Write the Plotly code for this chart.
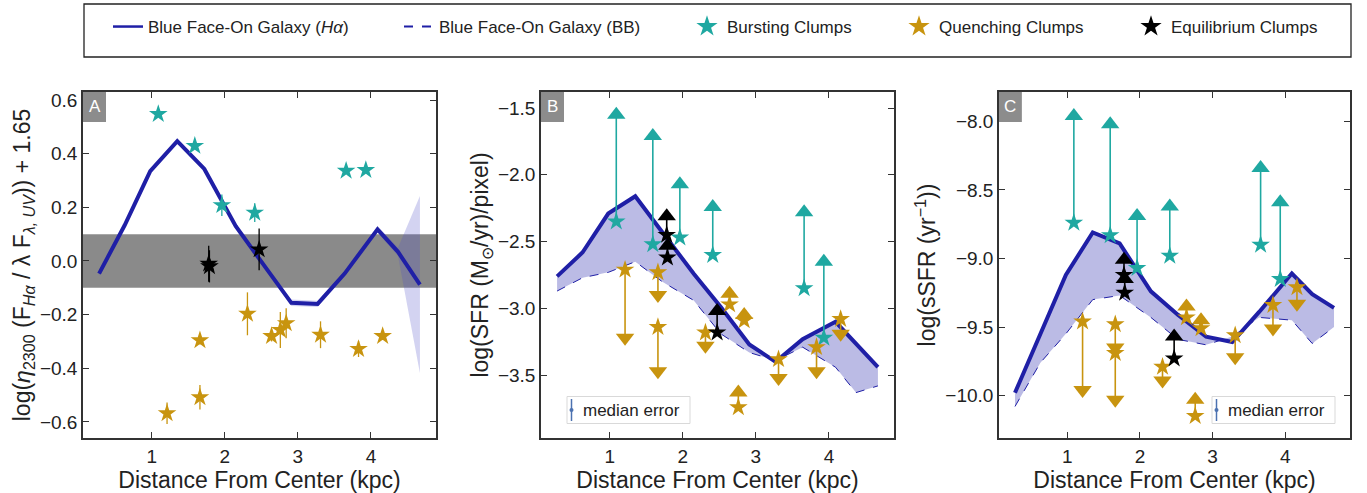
import plotly.graph_objects as go
from plotly.subplots import make_subplots

# ---------------- data ----------------
R = [0.28, 0.63, 0.98, 1.35, 1.72, 2.15, 2.52, 2.91, 3.27, 3.64, 4.09, 4.37, 4.67]

A_ha = [-0.047, 0.133, 0.335, 0.447, 0.343, 0.13, -0.01, -0.156, -0.16, -0.047, 0.118, 0.034, -0.088]
A_err = [0.008, 0.008, 0.008, 0.008, 0.008, 0.008, 0.008, 0.012, 0.012, 0.01, 0.012, 0.015, 0.33]

B_ha = [-2.76, -2.58, -2.29, -2.16, -2.43, -2.74, -2.99, -3.27, -3.40, -3.23, -3.10, -3.26, -3.44]
B_bb = [-2.87, -2.77, -2.73, -2.65, -2.80, -2.94, -3.19, -3.33, -3.39, -3.29, -3.44, -3.63, -3.58]

C_ha = [-9.98, -9.55, -9.12, -8.81, -8.89, -9.24, -9.41, -9.57, -9.61, -9.39, -9.11, -9.26, -9.36]
C_bb = [-10.08, -9.76, -9.55, -9.30, -9.27, -9.43, -9.59, -9.63, -9.57, -9.43, -9.45, -9.62, -9.50]

# Bursting clumps
burst_x = [1.09, 1.59, 1.96, 2.41, 3.66, 3.93]
burst_A = [0.548, 0.429, 0.208, 0.18, 0.336, 0.339]
burst_Aerr = [0.01, 0.01, 0.04, 0.035, 0.01, 0.012]
burst_B = [-2.35, -2.52, -2.47, -2.60, -2.85, -3.22]
burst_B_alt = [-1.55, -1.71, -2.07, -2.24, -2.28, -2.65]
burst_C = [-8.74, -8.83, -9.07, -8.98, -8.90, -9.15]
burst_C_alt = [-7.96, -8.02, -8.69, -8.62, -8.34, -8.59]

# Equilibrium clumps
eq_x = [1.78, 1.79, 2.47]
eq_A = [-0.01, -0.02, 0.043]
eq_Aerr = [0.067, 0.06, 0.078]
eq_B = [-2.45, -2.62, -3.18]
eq_B_alt = [-2.31, -2.53, -3.02]
eq_C = [-9.12, -9.25, -9.73]
eq_C_alt = [-9.01, -9.15, -9.57]

# Quenching clumps
q_x = [1.21, 1.66, 1.66, 2.31, 2.64, 2.76, 2.84, 3.31, 3.83, 4.16]
q_A = [-0.568, -0.296, -0.508, -0.197, -0.28, -0.257, -0.232, -0.275, -0.328, -0.28]
q_Aerr = [0.04, 0.015, 0.046, 0.08, 0.02, 0.067, 0.056, 0.05, 0.03, 0.015]
q_B = [-2.71, -2.73, -3.14, -3.18, -2.97, -3.74, -3.09, -3.38, -3.29, -3.08]
q_B_alt = [-3.22, -2.90, -3.47, -3.28, -2.89, -3.63, -3.05, -3.52, -3.47, -3.19]
q_C = [-9.46, -9.48, -9.69, -9.79, -9.43, -10.15, -9.51, -9.56, -9.34, -9.21]
q_C_alt = [-9.96, -9.65, -10.03, -9.89, -9.35, -10.03, -9.45, -9.72, -9.51, -9.33]

x_ticks = [1, 2, 3, 4]
A_ticks = [-0.6, -0.4, -0.2, 0.0, 0.2, 0.4, 0.6]
B_ticks = [-3.5, -3.0, -2.5, -2.0, -1.5]
C_ticks = [-10.0, -9.5, -9.0, -8.5, -8.0]

# ---------------- styles ----------------
BLUE = "#1f1fa6"
FILL = "rgba(60,60,180,0.35)"
TEAL = "#1fa8a1"
GOLD = "#c8940f"
BLACK = "#000000"
FONT = "Liberation Sans, Arial, sans-serif"
TXT = "#222222"

W, H = 1367, 493
ML, MR, MT, MB = 83, 17, 92, 55
PW, PH = W - ML - MR, H - MT - MB

fig = make_subplots(rows=1, cols=3, horizontal_spacing=0.0)
dom = [[0.0, 353 / PW], [(541 - ML) / PW, (894 - ML) / PW], [(999 - ML) / PW, 1.0]]

# ---- Panel A ----
A_up = [v + e for v, e in zip(A_ha, A_err)]
A_lo = [v - e for v, e in zip(A_ha, A_err)]
fig.add_trace(go.Scatter(x=R, y=A_up, mode="lines", line=dict(width=0, color=BLUE),
                         showlegend=False, hoverinfo="skip"), 1, 1)
fig.add_trace(go.Scatter(x=R, y=A_lo, mode="lines", line=dict(width=0, color=BLUE),
                         fill="tonexty", fillcolor="rgba(80,80,200,0.25)",
                         showlegend=False, hoverinfo="skip"), 1, 1)
fig.add_trace(go.Scatter(x=R, y=A_ha, mode="lines", line=dict(width=4, color=BLUE),
                         showlegend=False), 1, 1)

STAR = 14
TRI = 16


def stars_err(xs, ys, errs, color, col):
    fig.add_trace(go.Scatter(x=xs, y=ys, mode="markers",
                             marker=dict(symbol="star", size=STAR, color=color, line=dict(width=0)),
                             error_y=dict(type="data", array=errs, color=color, thickness=1.3, width=0),
                             showlegend=False), 1, col)


stars_err(burst_x, burst_A, burst_Aerr, TEAL, 1)
stars_err(q_x, q_A, q_Aerr, GOLD, 1)
stars_err(eq_x, eq_A, eq_Aerr, BLACK, 1)


# ---- Panels B, C ----
def band(col, ha, bb):
    fig.add_trace(go.Scatter(x=R, y=ha, mode="lines", line=dict(width=0, color=BLUE),
                             showlegend=False, hoverinfo="skip"), 1, col)
    fig.add_trace(go.Scatter(x=R, y=bb, mode="lines", line=dict(width=1, color=BLUE, dash="dash"),
                             fill="tonexty", fillcolor=FILL, showlegend=False), 1, col)
    fig.add_trace(go.Scatter(x=R, y=ha, mode="lines", line=dict(width=4, color=BLUE),
                             showlegend=False), 1, col)


def arrows(xs, ys, alts, color, col):
    lx, ly = [], []
    for x, s, a in zip(xs, ys, alts):
        lx += [x, x, None]
        ly += [s, a, None]
    fig.add_trace(go.Scatter(x=lx, y=ly, mode="lines", line=dict(width=1.6, color=color),
                             showlegend=False, hoverinfo="skip"), 1, col)
    syms = ["triangle-up" if a > s else "triangle-down" for s, a in zip(ys, alts)]
    fig.add_trace(go.Scatter(x=xs, y=alts, mode="markers",
                             marker=dict(symbol=syms, size=TRI, color=color, line=dict(width=0)),
                             showlegend=False), 1, col)
    fig.add_trace(go.Scatter(x=xs, y=ys, mode="markers",
                             marker=dict(symbol="star", size=STAR, color=color, line=dict(width=0)),
                             showlegend=False), 1, col)


band(2, B_ha, B_bb)
arrows(burst_x, burst_B, burst_B_alt, TEAL, 2)
arrows(q_x, q_B, q_B_alt, GOLD, 2)
arrows(eq_x, eq_B, eq_B_alt, BLACK, 2)

band(3, C_ha, C_bb)
arrows(burst_x, burst_C, burst_C_alt, TEAL, 3)
arrows(q_x, q_C, q_C_alt, GOLD, 3)
arrows(eq_x, eq_C, eq_C_alt, BLACK, 3)

# ---- Legend entries (separate legends for exact placement) ----
leg_items = [
    ("Blue Face-On Galaxy (<i>Hα</i>)", dict(mode="lines", line=dict(width=2.5, color=BLUE)), 149),
    ("Blue Face-On Galaxy (BB)", dict(mode="lines", line=dict(width=2, color=BLUE, dash="dash")), 440),
    ("Bursting Clumps", dict(mode="markers", marker=dict(symbol="star", size=16, color=TEAL)), 728),
    ("Quenching Clumps", dict(mode="markers", marker=dict(symbol="star", size=16, color=GOLD)), 940),
    ("Equilibrium Clumps", dict(mode="markers", marker=dict(symbol="star", size=16, color=BLACK)), 1172),
]
legend_layout = {}
for i, (name, style, tx) in enumerate(leg_items):
    key = "legend" if i == 0 else f"legend{i + 1}"
    fig.add_trace(go.Scatter(x=[None], y=[None], name=name, legend=key, showlegend=True, **style))
    legend_layout[key] = dict(
        x=(tx - 41 - ML) / PW, xanchor="left",
        y=(H - MB - 27) / PH, yanchor="middle",
        orientation="h", bgcolor="rgba(0,0,0,0)", borderwidth=0,
        font=dict(family=FONT, size=17, color=TXT),
    )

# ---------------- layout ----------------
axis_common = dict(showline=True, linecolor="#333333", linewidth=1.5, mirror="ticks",
                   ticks="inside", ticklen=6, tickwidth=1.3, tickcolor="#333333",
                   showgrid=False, zeroline=False, automargin=False,
                   tickfont=dict(family=FONT, size=19, color=TXT))
TITLE_FONT = dict(family=FONT, size=23, color=TXT)

shapes = []
annotations = []
for i in range(3):
    xa = "xaxis" if i == 0 else f"xaxis{i + 1}"
    fig.update_layout({xa: dict(domain=dom[i], range=[0.06, 4.89], tickvals=x_ticks,
                                title=dict(text="Distance From Center (kpc)", font=TITLE_FONT, standoff=1),
                                **axis_common)})
    xr = "x domain" if i == 0 else f"x{i + 1} domain"
    yr = "y domain" if i == 0 else f"y{i + 1} domain"
    shapes.append(dict(type="rect", xref=xr, yref=yr, x0=0, x1=23 / 353, y0=1 - 30 / PH, y1=1,
                       fillcolor="#8c8c8c", line=dict(width=0), layer="above"))
    annotations.append(dict(xref=xr, yref=yr, x=11.5 / 353, y=1 - 15 / PH, text="ABC"[i],
                            showarrow=False, font=dict(family=FONT, size=17, color="white"),
                            xanchor="center", yanchor="middle"))

fig.update_layout(
    yaxis=dict(range=[-0.66, 0.63], tickvals=A_ticks, tickformat=".1f",
               title=dict(text="log(<i>η</i><sub>2300</sub> (F<sub><i>Hα</i></sub> / λ F<sub><i>λ, UV</i></sub>)) + 1.65",
                          font=TITLE_FONT, standoff=3),
               **axis_common),
    yaxis2=dict(range=[-3.97, -1.38], tickvals=B_ticks, tickformat=".1f",
                title=dict(text="log(SFR (M<sub>⊙</sub>/yr)/pixel)", font=TITLE_FONT, standoff=3),
                **axis_common),
    yaxis3=dict(range=[-10.31, -7.785], tickvals=C_ticks, tickformat=".1f",
                title=dict(text="log(sSFR (yr<sup>−1</sup>))", font=TITLE_FONT, standoff=3),
                **axis_common),
)

# grey equilibrium band in panel A
shapes.append(dict(type="rect", xref="x domain", yref="y", x0=0, x1=1, y0=-0.1, y1=0.1,
                   fillcolor="rgba(0,0,0,0.46)", line=dict(width=0), layer="below"))

# legend outer box
shapes.append(dict(type="rect", xref="paper", yref="paper",
                   x0=(84 - ML) / PW, x1=(1351 - ML) / PW,
                   y0=(H - MB - 57) / PH, y1=(H - MB - 4) / PH,
                   line=dict(color="#222222", width=1.3), fillcolor="rgba(0,0,0,0)"))

# median error boxes in B and C
for xr, yr, x0, x1, w in [("x2 domain", "y2 domain", 567 - 541, 690 - 541, 353),
                          ("x3 domain", "y3 domain", 1212 - 999, 1335 - 999, 351)]:
    shapes.append(dict(type="rect", xref=xr, yref=yr, x0=x0 / w, x1=x1 / w,
                       y0=(438 - 423.5) / PH, y1=(438 - 396.5) / PH,
                       line=dict(color="#d9d9d9", width=1), fillcolor="white", layer="above"))
    shapes.append(dict(type="line", xref=xr, yref=yr, x0=(x0 + 4.5) / w, x1=(x0 + 4.5) / w,
                       y0=(438 - 421) / PH, y1=(438 - 399) / PH,
                       line=dict(color="#4c72b0", width=1.5), layer="above"))
    shapes.append(dict(type="circle", xref=xr, yref=yr,
                       x0=(x0 + 2.5) / w, x1=(x0 + 6.5) / w,
                       y0=(438 - 412) / PH, y1=(438 - 408) / PH,
                       line=dict(color="#4c72b0", width=0), fillcolor="#4c72b0", layer="above"))
    annotations.append(dict(xref=xr, yref=yr, x=(x0 + 14) / w, y=(438 - 410) / PH,
                            text="median error", showarrow=False, xanchor="left", yanchor="middle",
                            font=dict(family=FONT, size=17, color=TXT)))

fig.update_layout(
    width=W, height=H, margin=dict(l=ML, r=MR, t=MT, b=MB, autoexpand=False),
    plot_bgcolor="white", paper_bgcolor="white",
    shapes=shapes, annotations=annotations,
    font=dict(family=FONT, color=TXT),
    **legend_layout,
)

fig.write_html("out.html", config={"displayModeBar": False},
               post_script="document.body.style.margin='0';document.body.style.overflow='hidden';")
